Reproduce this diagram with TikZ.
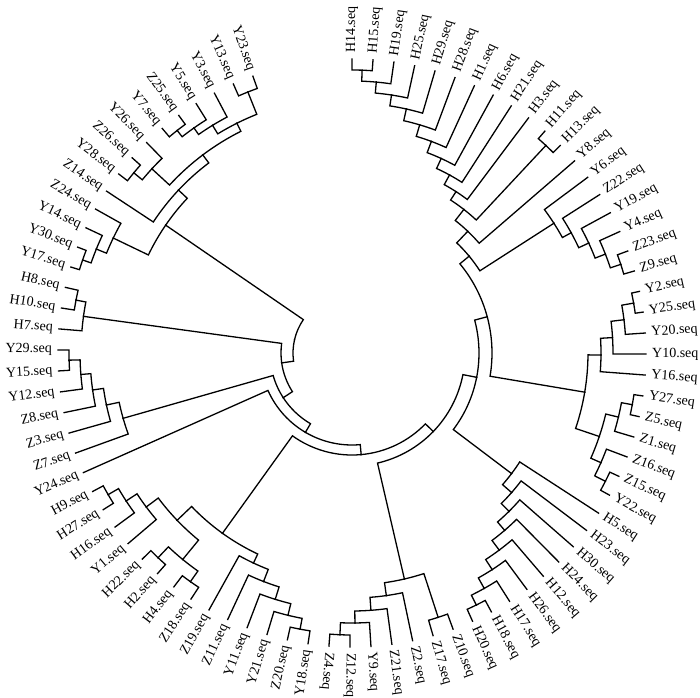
\documentclass[tikz,border=0pt]{standalone}
\usepackage{fontspec}
\setmainfont{Liberation Serif}
\tikzset{br/.style={line width=1.3pt, line cap=rect, line join=miter},
 lbl/.style={inner sep=0pt, font=\fontsize{14}{16}\selectfont}}
\newcommand\lf[2]{%
  \pgfmathsetmacro\tmpang{90-4.1*(#2-1)}%
  \expandafter\xdef\csname ang@#1\endcsname{\tmpang}%
  \coordinate (#1) at (\tmpang:294);
  \pgfmathsetmacro\tmpa{mod(\tmpang+720,360)}%
  \pgfmathtruncatemacro\tmpl{and(\tmpa>95,\tmpa<263)}%
  \ifnum\tmpl=1
    \pgfmathsetmacro\tmpr{\tmpa-180}%
    \node[lbl,anchor=east,rotate=\tmpr] (L#1) at (\tmpang:300) {#1.seq};
  \else
    \node[lbl,anchor=west,rotate=\tmpa] (L#1) at (\tmpang:300) {#1.seq};
  \fi
}
\newcommand\nd[5][]{%
  \edef\tmpA{\csname ang@#3\endcsname}%
  \edef\tmpB{\csname ang@#4\endcsname}%
  \if\relax\detokenize{#1}\relax
    \pgfmathsetmacro\tmpang{(\tmpA+\tmpB)/2}%
  \else
    \def\tmpang{#1}%
  \fi
  \expandafter\xdef\csname ang@#2\endcsname{\tmpang}%
  \coordinate (#2) at (\tmpang:#5);
  \draw[br] (#2) arc[start angle=\tmpang, end angle=\tmpA, radius=#5] -- (#3);
  \draw[br] (#2) arc[start angle=\tmpang, end angle=\tmpB, radius=#5] -- (#4);
}
\begin{document}
\begin{tikzpicture}[x=1pt,y=1pt]
\useasboundingbox (-352,-344) rectangle (348,353);
\fill[white] (-352,-344) rectangle (348,353);
% leaves
\lf{H14}{1}\lf{H15}{2}\lf{H19}{3}\lf{H25}{4}\lf{H29}{5}\lf{H28}{6}
\lf{H1}{7}\lf{H6}{8}\lf{H21}{9}\lf{H3}{10}\lf{H11}{11}\lf{H13}{12}
\lf{Y8}{13}\lf{Y6}{14}\lf{Z22}{15}\lf{Y19}{16}\lf{Y4}{17}\lf{Z23}{18}
\lf{Z9}{19}\lf{Y2}{20}\lf{Y25}{21}\lf{Y20}{22}\lf{Y10}{23}\lf{Y16}{24}
\lf{Y27}{25}\lf{Z5}{26}\lf{Z1}{27}\lf{Z16}{28}\lf{Z15}{29}\lf{Y22}{30}
\lf{H5}{31}\lf{H23}{32}\lf{H30}{33}\lf{H24}{34}\lf{H12}{35}\lf{H26}{36}
\lf{H17}{37}\lf{H18}{38}\lf{H20}{39}\lf{Z10}{40}\lf{Z17}{41}\lf{Z2}{42}
\lf{Z21}{43}\lf{Y9}{44}\lf{Z12}{45}\lf{Z4}{46}\lf{Y18}{47}\lf{Z20}{48}
\lf{Y21}{49}\lf{Y11}{50}\lf{Z11}{51}\lf{Z19}{52}\lf{Z18}{53}\lf{H4}{54}
\lf{H2}{55}\lf{H22}{56}\lf{Y1}{57}\lf{H16}{58}\lf{H27}{59}\lf{H9}{60}
\lf{Y24}{61}\lf{Z7}{62}\lf{Z3}{63}\lf{Z8}{64}\lf{Y12}{65}\lf{Y15}{66}
\lf{Y29}{67}\lf{H7}{68}\lf{H10}{69}\lf{H8}{70}\lf{Y17}{71}\lf{Y30}{72}
\lf{Y14}{73}\lf{Z24}{74}\lf{Z14}{75}\lf{Y28}{76}\lf{Z26}{77}\lf{Y26}{78}
\lf{Y7}{79}\lf{Z25}{80}\lf{Y5}{81}\lf{Y3}{82}\lf{Y13}{83}\lf{Y23}{84}
% H clade
\nd{hc1}{H14}{H15}{283}
\nd{hc2}{hc1}{H19}{272}
\nd{hc3}{hc2}{H25}{261}
\nd{hc4}{hc3}{H29}{250}
\nd{hc5}{hc4}{H28}{238}
\nd{hc6}{hc5}{H1}{226}
\nd{hc7}{hc6}{H6}{214}
\nd{hc8}{hc7}{H21}{203}
\nd{hc9}{hc8}{H3}{192}
\nd{hh}{H11}{H13}{284}
\nd{hc10}{hc9}{hh}{182}
\nd{hc11}{hc10}{Y8}{168}
% Y6 clade
\nd{ya}{Z23}{Z9}{283}
\nd{yb}{Y4}{ya}{272}
\nd{yc}{Y19}{yb}{261}
\nd{yd}{Z22}{yc}{250}
\nd{ye}{Y6}{yd}{240}
\nd{bb9}{hc11}{ye}{152}
% right Y clade
\nd{g1}{Y2}{Y25}{286}
\nd{g2}{g1}{Y20}{274}
\nd{g3}{g2}{Y10}{261}
\nd{g4}{g3}{Y16}{249}
\nd{za}{Y27}{Z5}{285}
\nd{zb}{za}{Z1}{274}
\nd{zc}{Z15}{Y22}{284}
\nd{zd}{Z16}{zc}{272}
\nd{ze}{zb}{zd}{261}
\nd{yr}{g4}{ze}{236}
\nd{bb8}{yr}{bb9}{140}
% H5 clade
\nd{p1}{H18}{H20}{281}
\nd{p2}{H17}{p1}{270}
\nd{p3}{H26}{p2}{258}
\nd{p4}{H12}{p3}{246}
\nd{p5}{H24}{p4}{234}
\nd{p6}{H30}{p5}{223}
\nd{p7}{H23}{p6}{212}
\nd{p8}{H5}{p7}{200}
\nd{bb7}{p8}{bb8}{127}
% bottom Z clade
\nd{z1}{Z12}{Z4}{282}
\nd{z2}{Y9}{z1}{270}
\nd{z3}{Z21}{z2}{258}
\nd{z4}{Z2}{z3}{245}
\nd{zp}{Z10}{Z17}{278}
\nd{zz}{zp}{z4}{232}
\nd{bb6}{zz}{bb7}{113}
% lower-left clade
\nd{m1}{Y18}{Z20}{281}
\nd{m2}{m1}{Y21}{270}
\nd{m3}{m2}{Y11}{258}
\nd{m4}{m3}{Z11}{245}
\nd{m5}{m4}{Z19}{232}
\nd{q1}{H4}{Z18}{280}
\nd{q2}{H2}{H22}{282}
\nd{q3}{q1}{q2}{267}
\nd{l1}{H27}{H9}{282}
\nd{l2}{H16}{l1}{270}
\nd{l3}{Y1}{l2}{257}
\nd{l4}{q3}{l3}{242}
\nd{ll}{m5}{l4}{222}
\nd{bb5}{bb6}{ll}{102}
\nd{bb4}{bb5}{Y24}{92}
% Y29 clade
\nd{n1}{Y15}{Y29}{283}
\nd{n2}{Y12}{n1}{272}
\nd{n3}{Z8}{n2}{262}
\nd{n4}{Z3}{n3}{251}
\nd{n5}{Z7}{n4}{238}
\nd[-147]{bb3}{bb4}{n5}{82}
% H7 clade
\nd{h1}{H10}{H8}{281}
\nd{h2}{H7}{h1}{271}
\nd[-172]{bb2}{bb3}{h2}{71}
% top-left clade
\nd{t1}{Y17}{Y30}{285}
\nd{t2}{t1}{Y14}{276}
\nd{t3}{t2}{Z24}{265}
\nd{d1}{Y28}{Z26}{283}
\nd{d2}{d1}{Y26}{272}
\nd{e2}{Y7}{Z25}{283}
\nd{e3}{e2}{Y5}{275}
\nd{e4}{e3}{Y3}{267}
\nd{e1}{Y13}{Y23}{281}
\nd{e5}{e4}{e1}{257}
\nd{t5}{d2}{e5}{248}
\nd{t4}{Z14}{t5}{238}
\nd{tt}{t3}{t4}{226}
\nd{root}{bb2}{tt}{59}
\end{tikzpicture}
\end{document}
